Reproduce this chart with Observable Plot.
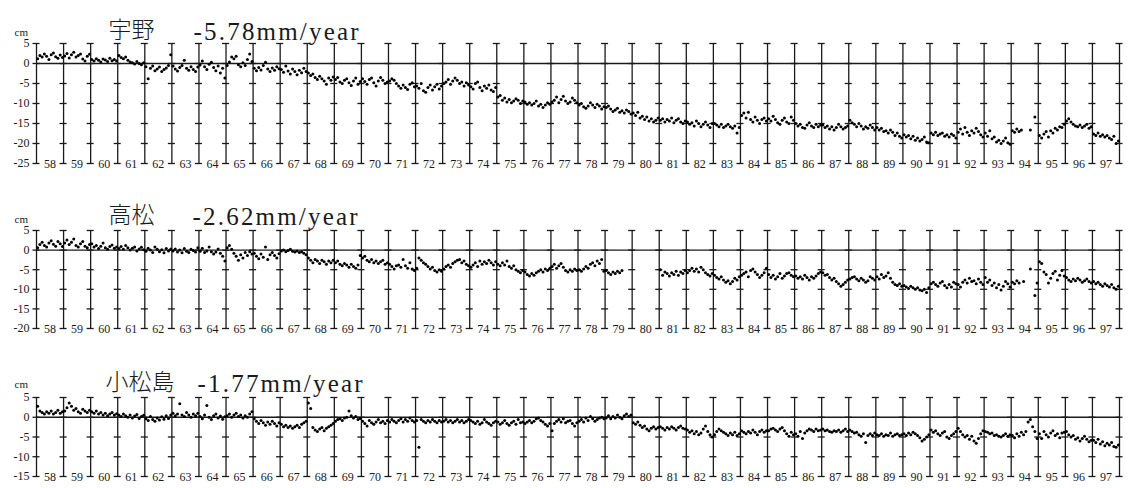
<!DOCTYPE html>
<html><head><meta charset="utf-8">
<script src="https://cdn.jsdelivr.net/npm/d3@7"></script>
<script src="https://cdn.jsdelivr.net/npm/@observablehq/plot@0.6"></script>
<style>
body{margin:0;background:#fff;width:1128px;height:488px;overflow:hidden;position:relative}
.panel{position:absolute;left:0}
</style></head><body>
<div id="p1" class="panel" style="top:0px"></div>
<div id="p2" class="panel" style="top:180px"></div>
<div id="p3" class="panel" style="top:342px"></div>
<script>
// ---- data ----
const startYear = 1958;
const gridYears = [1958,1959,1960,1961,1962,1963,1964,1965,1966,1967,1968,1969,1970,1971,1972,1973,1974,1975,1976,1977,1978,1979,1980,1981,1982,1983,1984,1985,1986,1987,1988,1989,1990,1991,1992,1993,1994,1995,1996,1997,1998];
const yearLabels = ["58","59","60","61","62","63","64","65","66","67","68","69","70","71","72","73","74","75","76","77","78","79","80","81","82","83","84","85","86","87","88","89","90","91","92","93","94","95","96","97"];
const stationNames = ["宇野","高松","小松島"];
const rateLabels = ["-5.78mm/year","-2.62mm/year","-1.77mm/year"];
const unoTicks = [5,0,-5,-10,-15,-20,-25];
const takamatsuTicks = [5,0,-5,-10,-15,-20];
const komatsushimaTicks = [5,0,-5,-10,-15];

// monthly mean sea level anomaly (cm), Jan 1958 .. Dec 1997
const unoValues = [
 1.2,2.0,1.6,2.4,1.8,1.0,2.2,2.6,1.7,1.3,2.1,1.5,
 1.9,2.5,1.4,2.2,2.8,1.6,2.0,2.4,1.1,0.6,1.8,2.3,
 1.0,0.6,1.2,0.8,0.4,1.1,0.9,0.5,1.3,0.7,1.0,0.6,
 2.0,1.5,1.2,1.6,0.8,0.4,0.2,-0.1,0.5,0.0,-0.3,0.2,
 -0.8,-3.8,-1.2,-0.6,-1.8,-1.4,-0.9,-2.0,-1.5,-1.1,-0.5,2.2,
 -0.6,-1.4,-1.9,-1.0,-0.5,0.8,-1.2,-1.7,-0.8,-1.5,-2.0,-0.9,
 -0.4,0.6,-0.8,-1.5,-0.2,0.3,-1.0,-1.8,-0.6,-2.4,-1.2,-3.6,
 -0.5,0.4,1.6,1.2,1.8,-0.3,-0.8,0.2,-0.5,1.0,2.4,0.5,
 -1.2,-1.8,-1.0,-1.6,-0.5,0.3,-1.4,-2.0,-1.1,-1.7,-0.8,-1.3,
 -1.5,-2.2,-0.6,-1.9,-2.6,-1.4,-2.0,-2.8,-1.7,-2.3,-1.2,-2.0,
 -2.4,-3.0,-2.6,-3.5,-4.0,-3.2,-3.8,-4.4,-5.2,-3.6,-4.2,-3.4,
 -4.0,-3.5,-4.6,-5.0,-4.2,-3.8,-4.8,-5.5,-4.4,-3.6,-5.2,-4.5,
 -3.8,-4.5,-5.2,-4.0,-3.6,-4.8,-5.6,-4.4,-3.5,-4.2,-5.0,-4.6,
 -4.4,-3.8,-4.2,-5.0,-5.6,-6.2,-5.4,-6.0,-6.5,-5.2,-4.8,-5.8,
 -5.6,-6.2,-5.0,-6.8,-7.2,-6.0,-5.4,-6.6,-5.8,-5.2,-6.4,-5.6,
 -5.0,-4.6,-4.0,-5.2,-4.4,-3.6,-4.2,-5.0,-4.6,-5.6,-4.8,-5.4,
 -5.8,-6.4,-5.0,-4.6,-6.0,-6.8,-5.6,-6.2,-5.4,-6.6,-7.0,-6.0,
 -8.4,-8.0,-9.2,-8.6,-9.6,-9.0,-9.8,-9.4,-8.8,-9.2,-10.0,-9.4,
 -9.6,-10.2,-9.8,-10.4,-10.0,-9.4,-10.6,-10.2,-11.0,-10.4,-9.8,-10.2,
 -9.6,-9.2,-8.4,-9.8,-9.0,-8.2,-9.4,-10.0,-9.6,-8.6,-9.2,-9.8,
 -10.4,-10.0,-10.8,-11.2,-10.6,-9.8,-10.4,-11.0,-10.2,-10.6,-11.4,-10.8,
 -11.0,-10.6,-11.4,-12.0,-11.6,-11.2,-12.2,-11.8,-12.4,-11.6,-12.0,-12.6,
 -12.4,-13.0,-12.2,-13.6,-13.2,-14.0,-13.4,-14.4,-13.8,-14.6,-14.2,-13.6,
 -14.2,-13.8,-14.6,-14.0,-14.4,-13.6,-14.8,-14.2,-13.8,-14.6,-15.0,-14.4,
 -14.6,-15.2,-14.8,-15.6,-14.4,-15.0,-15.8,-15.2,-14.6,-15.4,-16.0,-15.0,
 -15.0,-15.4,-15.8,-15.2,-16.0,-15.6,-15.2,-15.8,-16.2,-15.6,-17.4,-16.0,
 -13.0,-12.4,-13.6,-12.2,-14.0,-14.6,-13.4,-14.2,-15.0,-14.0,-13.6,-14.4,
 -13.8,-14.4,-13.2,-14.0,-14.8,-15.2,-14.2,-13.6,-14.6,-15.0,-13.4,-14.2,
 -15.0,-15.6,-15.2,-16.0,-16.2,-15.4,-14.8,-15.6,-16.0,-15.2,-15.8,-15.4,
 -15.4,-16.0,-15.6,-16.4,-15.8,-16.6,-16.0,-15.2,-15.8,-16.4,-16.0,-15.6,
 -14.2,-14.8,-15.2,-15.8,-15.0,-15.6,-16.4,-15.8,-16.2,-15.4,-16.0,-16.6,
 -16.0,-16.6,-16.2,-17.0,-16.8,-17.4,-16.6,-17.2,-18.0,-17.4,-18.2,-18.6,
 -17.8,-18.4,-18.0,-18.8,-18.2,-19.2,-18.6,-19.4,-19.0,-18.4,-19.6,-19.8,
 -17.4,-17.8,-17.2,-18.0,-17.6,-17.4,-18.2,-17.8,-18.4,-17.6,-18.0,-18.6,
 -17.2,-16.4,-17.6,-16.0,-17.2,-18.0,-16.8,-17.4,-16.2,-17.0,-17.8,-18.4,
 -17.4,-18.2,-16.8,-18.8,-18.4,-19.6,-19.2,-20.0,-19.4,-18.6,-19.8,-20.2,
 -16.8,-17.2,-16.4,-17.0,-16.6,null,null,null,-16.6,null,-13.4,null,
 -18.0,-18.6,-17.6,-17.0,-18.4,-16.8,-17.4,-16.2,-16.6,-15.8,-16.0,-15.2,
 -14.4,-13.8,-14.6,-15.2,-15.6,-15.8,-15.4,-16.0,-15.6,-15.2,-16.2,-15.8,
 -17.6,-18.0,-17.4,-18.2,-17.8,-18.4,-18.0,-18.6,-19.0,-18.2,-20.0,-19.4
];
const takamatsuValues = [
 0.6,1.4,2.0,1.2,0.8,1.8,2.4,1.5,1.0,2.2,1.6,0.9,
 1.8,2.6,1.4,2.0,2.8,1.2,0.8,1.6,2.2,1.0,0.6,1.4,
 1.6,0.8,1.2,0.4,1.0,1.8,0.6,0.2,0.9,1.3,0.5,0.8,
 0.4,0.9,0.2,1.2,0.6,0.0,0.5,0.8,-0.2,0.3,0.7,0.1,
 -0.3,0.5,0.0,-0.6,0.8,0.2,-0.4,0.1,-0.7,0.4,-0.2,0.3,
 -0.2,0.3,-0.5,0.0,-0.7,0.4,-0.3,-0.6,0.2,-0.1,-0.5,0.6,
 -0.3,0.5,-0.6,-0.2,0.8,-0.4,-1.0,-0.5,0.3,-0.8,-1.6,-2.8,
 0.6,1.2,0.2,-0.8,-1.6,-2.6,-1.2,-2.0,-0.6,-1.4,-0.4,-1.0,
 -0.8,-1.6,-2.2,-1.0,-1.8,0.8,-2.4,-1.2,-0.6,-1.4,-2.0,-0.9,
 -0.2,0.0,-0.4,-0.1,0.2,-0.3,-0.5,-0.2,-0.6,-0.4,-0.8,-1.2,
 -2.0,-2.6,-3.2,-2.4,-2.8,-3.4,-2.6,-3.0,-3.6,-2.8,-3.2,-2.6,
 -3.2,-2.8,-3.6,-4.0,-3.4,-3.8,-4.4,-3.6,-4.2,-4.6,-3.8,-1.4,
 -2.0,-1.6,-2.6,-3.0,-2.4,-3.2,-2.8,-3.4,-3.0,-2.6,-3.6,-3.2,
 -3.6,-4.2,-4.8,-4.0,-3.8,-4.4,-2.4,-4.0,-4.6,-3.2,-4.8,-5.2,
 -4.6,-2.0,-2.6,-3.2,-3.6,-4.2,-4.8,-4.4,-5.2,-5.6,-5.0,-5.4,
 -4.8,-4.2,-3.8,-4.4,-3.4,-3.0,-2.6,-2.4,-3.2,-2.8,-3.6,-4.0,
 -4.4,-3.8,-3.2,-4.2,-2.8,-3.6,-3.0,-3.4,-2.6,-3.2,-3.8,-3.0,
 -3.6,-4.0,-3.2,-3.8,-2.8,-4.2,-4.6,-4.0,-5.0,-5.4,-5.8,-5.2,
 -5.6,-6.2,-6.6,-6.0,-6.4,-5.8,-5.4,-5.0,-5.6,-4.8,-5.2,-4.6,
 -4.2,-3.6,-4.6,-4.0,-3.4,-4.4,-5.2,-5.6,-5.0,-5.4,-4.8,-5.2,
 -5.0,-5.4,-4.8,-4.2,-4.6,-3.6,-3.2,-4.0,-2.8,-3.4,-2.4,-5.4,
 -5.2,-5.8,-6.2,-5.6,-6.0,-5.4,-5.8,-5.2,null,null,null,null,
 null,null,null,null,null,null,null,null,null,null,null,null,
 -5.0,-6.4,-5.6,-6.0,-6.6,-5.8,-6.2,-5.4,-6.4,-5.6,-6.0,-5.2,
 -5.8,-5.2,-4.6,-5.4,-4.8,-5.6,-4.4,-5.0,-5.8,-6.2,-6.6,-6.0,
 -6.4,-7.0,-7.4,-6.8,-7.6,-8.2,-7.8,-8.6,-8.0,-7.2,-7.6,-6.8,
 -6.4,-6.0,-5.6,-6.8,-5.2,-4.8,-5.6,-6.2,-7.0,-6.4,-5.8,-4.6,
 -6.2,-7.0,-6.4,-7.4,-6.8,-6.0,-7.2,-6.6,-6.0,-5.8,-6.4,-6.8,
 -6.6,-7.2,-6.8,-7.4,-6.4,-7.0,-7.6,-6.8,-7.2,-6.6,-6.0,-5.6,
 -5.8,-6.4,-6.2,-7.0,-7.6,-7.2,-8.0,-8.6,-9.2,-8.8,-8.2,-7.6,
 -7.4,-7.0,-6.8,-7.4,-7.8,-7.2,-7.6,-8.2,-7.8,-6.8,-7.2,-7.6,
 -6.8,-7.4,-6.2,-7.0,-6.6,-5.8,-7.2,-8.2,-8.8,-9.0,-8.6,-9.2,
 -9.0,-9.4,-9.8,-9.2,-9.6,-10.0,-9.6,-10.2,-10.4,-10.0,-10.8,-9.6,
 -8.6,-8.2,-8.8,-9.2,-8.4,-8.0,-9.0,-9.6,-8.8,-9.4,-8.2,-8.6,
 -8.8,-9.4,-8.2,-7.6,-8.4,-7.2,-8.0,-7.8,-8.6,-7.4,-8.2,-8.8,
 -7.0,-8.2,-7.6,-9.0,-8.4,-9.6,-8.8,-10.2,-9.2,-8.0,-8.6,-9.4,
 -8.2,-8.6,-7.8,-8.4,null,-8.0,null,null,-4.8,null,-11.6,-8.4,
 -3.0,-3.4,-5.6,-6.2,-8.4,-7.2,-6.0,-5.4,-7.6,-6.4,-5.2,-6.6,
 -7.0,-7.6,-8.0,-7.4,-7.8,-7.2,-7.6,-8.2,-7.8,-7.4,-8.0,-8.4,
 -8.0,-8.6,-8.2,-8.8,-9.2,-8.6,-9.0,-9.4,-8.8,-9.6,-10.0,-9.2
];
const komatsushimaValues = [
 2.8,1.6,1.2,0.8,1.4,1.0,1.6,0.8,1.2,1.8,1.0,1.4,
 1.6,2.4,3.6,2.8,1.8,2.2,1.4,1.0,2.0,1.6,1.2,1.8,
 1.4,1.0,1.6,0.8,1.2,0.6,1.0,0.4,0.8,1.2,0.6,0.9,
 0.6,0.2,0.8,0.4,0.0,0.6,-0.2,0.3,0.7,-0.3,0.2,0.5,
 -0.4,-0.8,0.2,-0.6,-1.0,-0.2,-0.7,0.1,-0.5,0.4,-0.3,0.6,
 1.0,0.4,0.8,3.4,0.6,0.2,1.2,0.6,0.0,0.8,0.4,1.0,
 0.2,-0.4,0.6,3.0,0.0,-0.6,0.4,0.8,-0.2,0.3,-0.5,0.1,
 0.4,0.8,0.0,0.6,1.0,0.2,0.6,-0.2,0.4,0.0,0.8,1.4,
 -0.4,-1.0,-1.6,-0.8,-1.4,-2.0,-1.2,-1.8,-1.0,-1.6,-2.2,-1.4,
 -1.8,-2.4,-2.0,-2.6,-2.2,-2.8,-2.4,-2.0,-2.6,-1.8,-1.4,-1.0,
 3.6,2.2,-2.6,-3.2,-3.6,-3.0,-2.6,-3.4,-2.8,-2.4,-2.0,-1.6,
 -1.0,-0.6,-0.4,-0.8,-0.2,0.0,1.6,0.4,-0.2,0.2,-0.6,-0.3,
 -1.0,-1.6,-2.2,-0.8,-1.4,-1.8,-1.2,-0.6,-1.4,-1.0,-1.6,-0.8,
 -1.2,-0.6,-1.0,-1.4,-0.8,-0.4,-1.2,-0.6,-1.0,-0.2,-0.8,-1.2,
 -0.8,-7.6,-0.6,-1.0,-1.4,-0.8,-1.2,-0.6,-1.0,-1.4,-0.8,-1.2,
 -1.0,-0.6,-1.2,-0.8,-1.4,-1.0,-0.6,-1.2,-0.8,-1.4,-1.0,-0.6,
 -0.8,-1.2,-1.6,-1.0,-1.8,-1.4,-0.6,-1.2,-1.6,-2.0,-1.4,-1.0,
 -1.2,-1.8,-1.4,-0.8,-1.6,-2.0,-1.4,-1.0,-1.8,-0.6,-1.4,-1.2,
 -1.6,-1.2,-0.8,-1.4,-1.0,-0.4,-0.2,-0.8,-1.2,-1.8,-2.2,-1.6,
 -3.4,-1.6,-1.0,-0.6,-1.2,-0.4,-1.4,-1.0,-0.8,-1.6,-2.2,-1.4,
 -1.0,-0.6,-1.2,-0.2,-0.8,0.2,-0.4,-1.0,-0.6,-0.2,0.0,-0.4,
 -0.2,0.4,-0.4,0.2,-0.2,0.6,0.0,-0.4,0.4,0.8,0.2,0.6,
 -1.4,-1.8,-1.2,-2.0,-2.6,-2.2,-3.0,-3.4,-2.8,-2.4,-3.0,-2.6,
 -2.4,-2.8,-3.2,-2.6,-3.0,-2.4,-2.8,-3.2,-2.6,-2.2,-2.8,-3.0,
 -3.2,-3.8,-3.4,-4.2,-3.6,-4.4,-4.0,-3.0,-2.2,-3.6,-4.4,-5.0,
 -4.4,-3.6,-3.0,-3.4,-3.8,-4.2,-4.6,-4.0,-4.4,-3.8,-4.6,-4.2,
 -3.4,-3.8,-4.2,-3.6,-4.0,-3.2,-3.8,-4.4,-3.6,-3.2,-3.8,-3.4,
 -3.4,-3.0,-2.8,-3.2,-3.6,-3.0,-2.6,-3.4,-4.2,-4.8,-3.8,-4.4,
 -4.2,-4.8,-3.6,-5.4,-4.0,-3.4,-3.0,-3.2,-3.6,-3.0,-3.4,-3.2,
 -3.0,-3.4,-3.2,-3.6,-3.8,-3.4,-3.6,-3.2,-3.8,-3.4,-3.0,-3.6,
 -3.2,-3.6,-4.0,-3.8,-4.4,-4.8,-4.2,-6.4,-4.6,-4.2,-4.6,-4.0,
 -4.4,-4.6,-4.2,-4.8,-4.4,-4.6,-4.0,-4.8,-4.4,-4.2,-4.6,-4.4,
 -4.2,-4.6,-4.0,-4.4,-3.8,-4.2,-4.6,-5.2,-6.0,-5.6,-5.0,-4.4,
 -3.2,-3.8,-3.4,-4.2,-4.6,-4.0,-3.6,-5.0,-5.4,-4.6,-4.2,-3.6,
 -2.8,-3.6,-4.4,-5.0,-4.6,-5.6,-4.8,-6.0,-6.6,-5.4,-4.2,-3.4,
 -3.6,-3.8,-4.2,-4.0,-4.6,-4.4,-4.8,-5.0,-4.6,-4.2,-4.8,-4.4,
 -4.6,-5.2,-4.2,-4.8,-3.8,-4.4,-3.6,-1.2,-0.6,-2.4,-3.6,-5.4,
 -4.2,-5.4,-3.6,-4.4,-5.0,-4.0,-3.4,-4.6,-4.2,-5.2,-4.0,-3.8,
 -3.6,-4.4,-5.0,-4.6,-5.6,-5.2,-6.0,-5.4,-4.8,-5.6,-6.2,-5.8,
 -5.8,-6.4,-5.6,-6.8,-6.2,-7.2,-6.6,-7.0,-6.4,-7.4,-7.6,-7.0
];

// ---- drawing ----
const serif = "'Liberation Serif', 'DejaVu Serif', serif";
const ink = "#1a1a1a";

function panel(el, name, rate, values, ticks, cfg) {
  const top = d3.max(ticks), bottom = d3.min(ticks);
  const pts = values.map((v, i) => ({t: startYear + (i + 0.5) / 12, v}))
                    .filter(d => d.v != null);
  const crosses = gridYears.flatMap(yr => ticks.map(lv => ({yr, lv})));
  const plot = Plot.plot({
    width: 1128,
    height: cfg.marginTop + cfg.inner + cfg.marginBottom,
    marginTop: cfg.marginTop,
    marginBottom: cfg.marginBottom,
    marginLeft: 36,
    marginRight: 9,
    style: {fontFamily: serif, background: "white", color: ink, overflow: "visible"},
    x: {domain: [1958, 1998], axis: null},
    y: {domain: [bottom, top], axis: null},
    marks: [
      Plot.ruleX(gridYears, {x: d => d, y1: bottom, y2: top, stroke: ink, strokeWidth: 1.3}),
      Plot.ruleY(crosses, {y: "lv", x1: d => d.yr - 0.13, x2: d => d.yr + 0.13, stroke: ink, strokeWidth: 1.3}),
      Plot.ruleY([0], {stroke: ink, strokeWidth: 1.3}),
      Plot.dot(pts, {x: "t", y: "v", r: 1.5, fill: "#000", stroke: "none"}),
      Plot.text(yearLabels, {x: (d, i) => gridYears[i] + 0.5, y: bottom, text: d => d,
        fontSize: 12, fontFamily: serif, fill: ink, dy: 1}),
      Plot.axisY({ticks, tickSize: 0, tickPadding: 7, fontSize: 12, label: null,
        tickFormat: d => String(d), fontFamily: serif}),
      Plot.text(["cm"], {frameAnchor: "top-left", text: d => d, dx: -22, dy: -cfg.cmOff,
        fontSize: 11, fontFamily: serif, fill: ink}),
      Plot.text([name], {frameAnchor: "top-left", text: d => d, dx: cfg.nameX - 36, dy: -cfg.titleOff,
        textAnchor: "start", lineAnchor: "bottom", fontSize: 23,
        fontFamily: "'Noto Sans CJK JP', sans-serif", fontWeight: 300, fill: ink}),
      Plot.text([rate], {frameAnchor: "top-left", text: d => d, dx: cfg.rateX - 36, dy: -cfg.titleOff + 2,
        textAnchor: "start", lineAnchor: "bottom", fontSize: 25, fontFamily: serif, fill: ink})
    ]
  });
  d3.select(plot).selectAll("text").filter(function() {
    return this.textContent.includes("mm/year");
  }).attr("letter-spacing", "2.2px");
  document.getElementById(el).appendChild(plot);
}

panel("p1", stationNames[0], rateLabels[0], unoValues, unoTicks,
  {marginTop: 43, inner: 120, marginBottom: 12, titleOff: 6, cmOff: 15, nameX: 108, rateX: 193});
panel("p2", stationNames[1], rateLabels[1], takamatsuValues, takamatsuTicks,
  {marginTop: 50, inner: 98, marginBottom: 12, titleOff: 8, cmOff: 15, nameX: 108, rateX: 192});
panel("p3", stationNames[2], rateLabels[2], komatsushimaValues, komatsushimaTicks,
  {marginTop: 55, inner: 79, marginBottom: 12, titleOff: 8, cmOff: 17, nameX: 105, rateX: 197});
</script>
</body></html>
